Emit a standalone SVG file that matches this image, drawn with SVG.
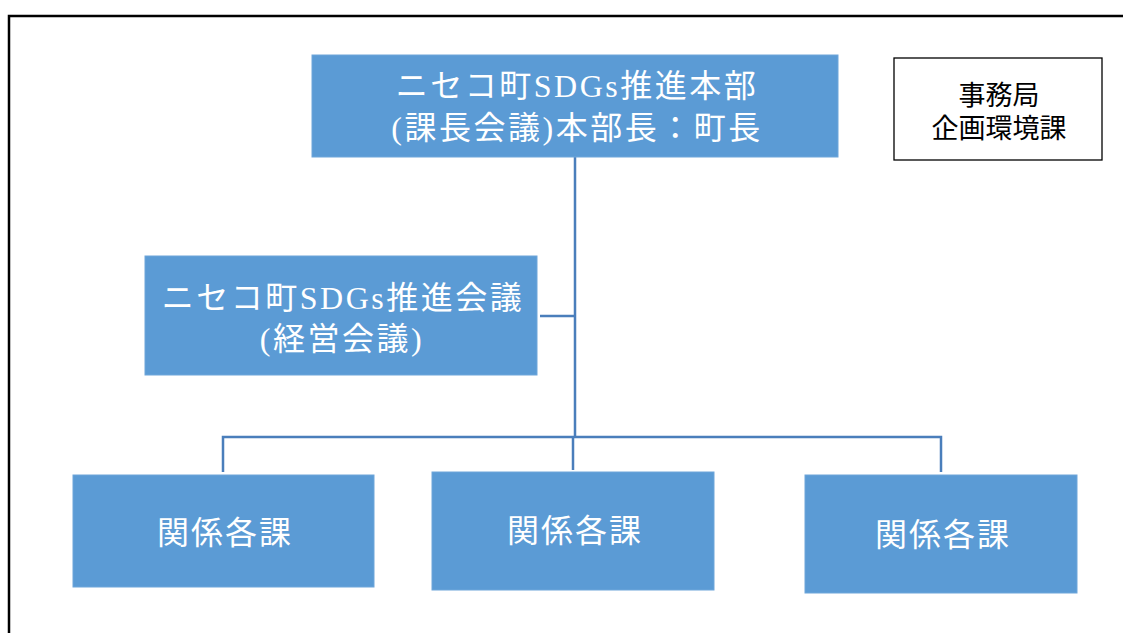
<svg xmlns="http://www.w3.org/2000/svg" width="1123" height="633" viewBox="0 0 1123 633">
<style>
.box{fill:#5B9BD5;stroke:#6FA6DA;stroke-width:1}
.wt{fill:#ffffff;font-family:"Liberation Serif","Noto Sans CJK JP",serif;text-anchor:middle}
.bt{fill:#000000;font-family:"Liberation Serif","Noto Sans CJK JP",serif;text-anchor:middle}
.big{font-size:32px;letter-spacing:2.5px}
.dep{font-size:32px;letter-spacing:2px}
.con{fill:none;stroke:#4A7EBB;stroke-width:2.5}
</style>
<rect width="1123" height="633" fill="#ffffff"/>
<path d="M9,640 V16 H1130" fill="none" stroke="#000000" stroke-width="2.5"/>
<g id="connectors">
<path class="con" d="M575,157 V437"/>
<path class="con" d="M540,316 H575"/>
<path class="con" d="M223,472 V437 H941 V472"/>
<path class="con" d="M573,437 V470"/>
</g>
<g id="hq">
<rect class="box" x="312" y="55" width="526" height="102"/>
<text class="wt big" x="577" y="97">ニセコ町SDGs推進本部</text>
<text class="wt big" x="577" y="139">(課長会議)本部長：町長</text>
</g>
<g id="secretariat">
<rect x="894" y="58" width="208" height="102" fill="#ffffff" stroke="#000000" stroke-width="1.3"/>
<text class="bt" x="999" y="105" font-size="27">事務局</text>
<text class="bt" x="999" y="138" font-size="27">企画環境課</text>
</g>
<g id="council">
<rect class="box" x="145" y="256" width="392" height="119"/>
<text class="wt big" x="343" y="309">ニセコ町SDGs推進会議</text>
<text class="wt big" x="342" y="350">(経営会議)</text>
</g>
<g id="dept1">
<rect class="box" x="73" y="475" width="301" height="112"/>
<text class="wt dep" x="225" y="544">関係各課</text>
</g>
<g id="dept2">
<rect class="box" x="432" y="472" width="282" height="118"/>
<text class="wt dep" x="575" y="542">関係各課</text>
</g>
<g id="dept3">
<rect class="box" x="805" y="475" width="272" height="118"/>
<text class="wt dep" x="943" y="546">関係各課</text>
</g>
</svg>
